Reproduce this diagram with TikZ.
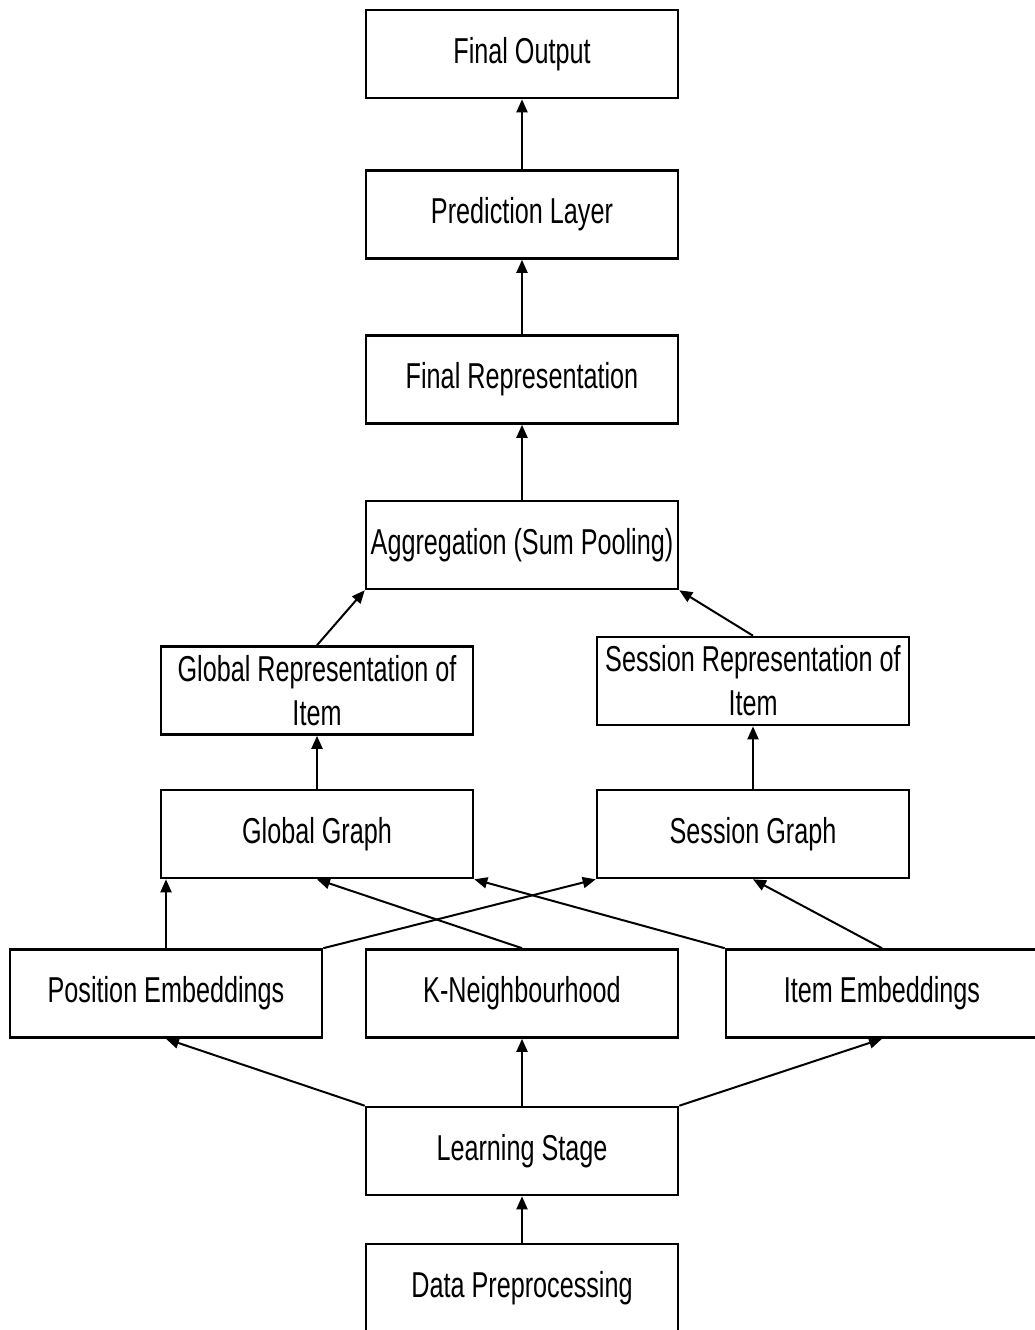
\documentclass[tikz,border=0pt]{standalone}
\usepackage{fontspec}
\setmainfont{Liberation Sans}[FakeStretch=0.70]
\usetikzlibrary{arrows.meta}

\begin{document}
\begin{tikzpicture}[x=1pt,y=-1pt,
  stage/.style={draw=black, line width=2.6pt, fill=white, rectangle,
    minimum width=312pt, minimum height=88pt, inner sep=2pt, align=center,
    font=\fontsize{36}{44}\selectfont},
  flow/.style={line width=2pt, -{Triangle[width=11pt,length=13pt]}}
]
% canvas
\clip (0,0) rectangle (1035,1330);
\fill[white] (0,0) rectangle (1035,1330);

% output chain
\node[stage] (fo) at (522,54)    {Final Output};
\node[stage] (pl) at (522,214.5) {Prediction Layer};
\node[stage] (fr) at (522,379.5) {Final Representation};
\node[stage] (ag) at (522,545)   {Aggregation (Sum Pooling)};

% representations
\node[stage] (gr) at (317,690.5) {Global Representation of\\Item};
\node[stage] (sr) at (753,681)   {Session Representation of\\Item};

% graphs
\node[stage] (gg) at (317,834) {Global Graph};
\node[stage] (sg) at (753,834) {Session Graph};

% inputs
\node[stage] (pe) at (166,993.5) {Position Embeddings};
\node[stage] (kn) at (522,993.5) {K-Neighbourhood};
\node[stage] (ie) at (882,993.5) {Item Embeddings};

% learning and preprocessing
\node[stage] (ls) at (522,1151) {Learning Stage};
\node[stage] (dp) at (522,1288) {Data Preprocessing};

% connectors
\draw[flow] (dp.north) -- (ls.south);
\draw[flow] (ls.north west) -- (pe.south);
\draw[flow] (ls.north) -- (kn.south);
\draw[flow] (ls.north east) -- (ie.south);

\draw[flow] (pe.north) -- (pe.north |- gg.south);
\draw[flow] (pe.north east) -- (sg.south west);
\draw[flow] (kn.north) -- (gg.south);
\draw[flow] (ie.north west) -- (gg.south east);
\draw[flow] (ie.north) -- (sg.south);

\draw[flow] (gg.north) -- (gr.south);
\draw[flow] (sg.north) -- (sr.south);
\draw[flow] (gr.north) -- (ag.south west);
\draw[flow] (sr.north) -- (ag.south east);

\draw[flow] (ag.north) -- (fr.south);
\draw[flow] (fr.north) -- (pl.south);
\draw[flow] (pl.north) -- (fo.south);
\end{tikzpicture}
\end{document}
